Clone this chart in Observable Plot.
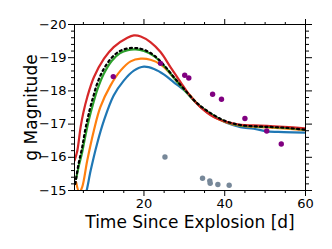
<!DOCTYPE html>
<html><head><meta charset="utf-8">
<script src="https://cdn.jsdelivr.net/npm/d3@7"></script>
<script src="https://cdn.jsdelivr.net/npm/@observablehq/plot@0.6"></script>
<style>body{margin:0;background:#fff} #c{width:332px;height:249px}</style>
</head><body><div id="c"></div>
<script>
// Model light curves (time since explosion [d], g magnitude)
const tBlue   = [5.5, 5.8, 6.8, 8.4, 10.1, 12.5, 15.0, 17.5, 20, 22.5, 25, 27.4, 30.5, 34, 37.3, 40.6, 43.9, 47.2, 50.5, 54.6, 60];
const magBlue = [-14.9, -15.0, -15.6, -16.41, -17.11, -17.86, -18.31, -18.61, -18.73, -18.66, -18.49, -18.26, -17.96, -17.52, -17.25, -17.03, -16.91, -16.86, -16.78, -16.76, -16.74];

const tOrange   = [3.2, 4.0, 4.7, 5.95, 7.6, 9.2, 11.7, 14.2, 16.7, 19.2, 21.6, 24.1, 26.6, 29.1, 31, 34, 37.3, 40.6, 43.9, 47.2, 50.5, 54.6, 60];
const magOrange = [-15.25, -14.95, -15.1, -15.9, -16.81, -17.51, -18.16, -18.61, -18.89, -18.97, -18.94, -18.8, -18.51, -18.16, -17.92, -17.52, -17.22, -17.04, -16.95, -16.92, -16.9, -16.87, -16.82];

const tGreen   = [3.2, 3.8, 4.7, 5.5, 6.5, 7.5, 8.5, 10, 12, 14, 16, 18, 20, 22.5, 25, 27.5, 30, 33, 36, 40, 44, 48, 52, 56, 60];
const magGreen = [-15.35, -15.7, -16.15, -16.65, -17.2, -17.65, -18.05, -18.5, -18.9, -19.13, -19.23, -19.25, -19.2, -19.05, -18.75, -18.38, -18.03, -17.63, -17.35, -17.08, -16.96, -16.93, -16.91, -16.88, -16.83];

const tRed   = [2.8, 3.5, 4.3, 5.0, 5.95, 7.6, 10.1, 12.5, 15.9, 17.5, 19.2, 21.6, 24.1, 26.6, 29.1, 31, 34, 37.3, 40.6, 43.9, 47.2, 50.5, 54.6, 60];
const magRed = [-15.9, -16.2, -16.9, -17.35, -17.81, -18.41, -18.97, -19.32, -19.6, -19.67, -19.64, -19.47, -19.17, -18.71, -18.26, -17.92, -17.51, -17.21, -17.06, -16.98, -16.96, -16.95, -16.92, -16.87];

const tDotted   = [3.0, 3.8, 4.7, 5.5, 6.5, 7.5, 8.5, 10, 12, 14, 16, 18, 20, 22.5, 25, 27.5, 30, 33, 36, 40, 44, 48, 52, 56, 60];
const magDotted = [-15.2, -15.8, -16.3, -16.85, -17.4, -17.85, -18.25, -18.65, -19.0, -19.2, -19.28, -19.29, -19.24, -19.07, -18.77, -18.4, -18.05, -17.65, -17.37, -17.1, -16.97, -16.93, -16.91, -16.88, -16.83];

// Observed photometry
const tPurple   = [12.4, 24.1, 30.1, 31.1, 37.0, 39.2, 45.0, 50.4, 54.0];
const magPurple = [-18.43, -18.83, -18.47, -18.39, -17.9, -17.75, -17.17, -16.79, -16.4];

const tGray   = [25.2, 34.5, 36.3, 36.4, 38.3, 41.1];
const magGray = [-16.01, -15.37, -15.29, -15.22, -15.18, -15.16];

// Axes
const xMajor = [20, 40, 60];
const xMinor = [5, 10, 15, 25, 30, 35, 45, 50, 55];
const yMajor = [-20, -19, -18, -17, -16, -15];
const yMinor = d3.range(0, 26).map(i => -20 + i * 0.2).filter(v => Math.abs(v - Math.round(v)) > 0.01);
const xLabel = "Time Since Explosion [d]";
const yLabel = "g Magnitude";

const toRows = (t, m) => t.map((v, i) => ({t: v, mag: m[i]}));
const lineOpts = (stroke) => ({x: "t", y: "mag", stroke, strokeWidth: 2.2, curve: "catmull-rom", clip: true});
const noText = () => "";
const fmt = d3.format("d");

const chart = Plot.plot({
  width: 332, height: 249,
  marginLeft: 74, marginRight: 27, marginTop: 24, marginBottom: 59,
  style: {fontFamily: "DejaVu Sans", fontSize: "13px", background: "white", color: "black"},
  x: {domain: [2.8, 60]},
  y: {domain: [-15, -20]},
  marks: [
    Plot.line(toRows(tBlue, magBlue), lineOpts("#1f77b4")),
    Plot.line(toRows(tOrange, magOrange), lineOpts("#ff7f0e")),
    Plot.line(toRows(tGreen, magGreen), lineOpts("#2ca02c")),
    Plot.line(toRows(tRed, magRed), lineOpts("#d62728")),
    Plot.line(toRows(tDotted, magDotted), {x: "t", y: "mag", stroke: "black", strokeWidth: 2.2, strokeDasharray: "2,3.3", curve: "catmull-rom", clip: true}),
    Plot.dot(toRows(tGray, magGray), {x: "t", y: "mag", r: 2.7, fill: "#778899", stroke: "none"}),
    Plot.dot(toRows(tPurple, magPurple), {x: "t", y: "mag", r: 2.7, fill: "#800080", stroke: "none"}),
    Plot.frame({stroke: "black", strokeWidth: 1}),
    // bottom
    Plot.axisX({ticks: xMinor, tickSize: 3, tickFormat: noText, label: null}),
    Plot.axisX({ticks: xMajor, tickSize: 6, tickPadding: 2, fontSize: 13, tickFormat: fmt, label: null}),
    // top
    Plot.axisX({anchor: "top", ticks: xMinor, tickSize: 3, tickFormat: noText, label: null}),
    Plot.axisX({anchor: "top", ticks: xMajor, tickSize: 6, tickFormat: noText, label: null}),
    // left
    Plot.axisY({ticks: yMinor, tickSize: 3, tickFormat: noText, label: null}),
    Plot.axisY({ticks: yMajor, tickSize: 6, tickPadding: 2, fontSize: 13, tickFormat: fmt, label: null}),
    // right
    Plot.axisY({anchor: "right", ticks: yMinor, tickSize: 3, tickFormat: noText, label: null}),
    Plot.axisY({anchor: "right", ticks: yMajor, tickSize: 6, tickFormat: noText, label: null}),
    // axis titles
    Plot.text([xLabel], {frameAnchor: "bottom", dy: 32, fontSize: 17, lineAnchor: "middle", textAnchor: "middle", text: d => d}),
    Plot.text([yLabel], {frameAnchor: "left", dx: -43, fontSize: 17, lineAnchor: "middle", textAnchor: "middle", rotate: -90, text: d => d})
  ]
});
document.getElementById("c").appendChild(chart);
</script>
</body></html>
